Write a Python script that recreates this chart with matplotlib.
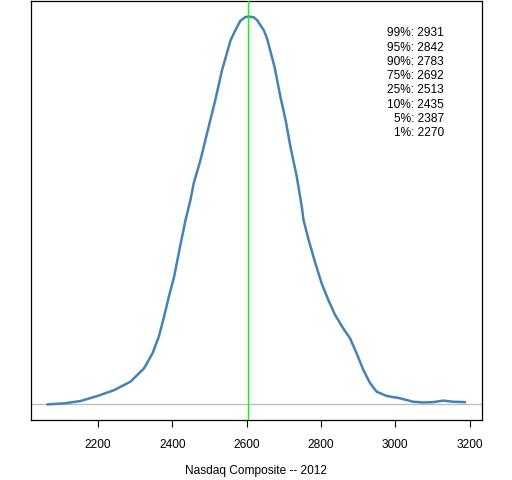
import matplotlib
matplotlib.use("Agg")
import matplotlib.pyplot as plt
import numpy as np

# density of simulated Nasdaq Composite year-end values (units of 1e-3)
index_level = [2065, 2110, 2154, 2199, 2244, 2288, 2324, 2347, 2364, 2378,
               2391, 2405, 2423, 2436, 2449, 2458, 2476, 2498, 2516, 2534,
               2557, 2570, 2583, 2597, 2606, 2619, 2628, 2646, 2655, 2675,
               2691, 2705, 2718, 2735, 2749, 2753, 2767, 2785, 2802, 2820,
               2838, 2860, 2878, 2896, 2914, 2932, 2950, 2977, 3012, 3048,
               3075, 3102, 3129, 3155, 3187]
density_e3 = [0.001, 0.009, 0.028, 0.068, 0.115, 0.183, 0.288, 0.409, 0.543, 0.701,
              0.862, 1.020, 1.290, 1.476, 1.634, 1.770, 1.953, 2.220, 2.434, 2.672,
              2.911, 2.992, 3.065, 3.096, 3.100, 3.094, 3.072, 2.992, 2.925, 2.700,
              2.458, 2.272, 2.058, 1.820, 1.569, 1.476, 1.314, 1.128, 0.967, 0.834,
              0.716, 0.608, 0.530, 0.409, 0.276, 0.171, 0.102, 0.068, 0.050, 0.022,
              0.016, 0.019, 0.031, 0.022, 0.019]

center_value = 2605

quantile_names = ["99%", "95%", "90%", "75%", "25%", "10%", "5%", "1%"]
quantile_values = [2931, 2842, 2783, 2692, 2513, 2435, 2387, 2270]

xticks = [2200, 2400, 2600, 2800, 3000, 3200]

plt.rcParams["font.family"] = ["Liberation Sans", "DejaVu Sans"]
fs = 8.6

fig = plt.figure(figsize=(5.12, 4.8), dpi=100)
ax = fig.add_axes([31 / 512, 1 - 420 / 480, 450.5 / 512, 419 / 480])

x = np.array(index_level)
y = np.array(density_e3) * 1e-3

ax.axhline(0, color="#BEBEBE", linewidth=1.0, zorder=1)
ax.plot(x, y, color="#4682B4", linewidth=1.8, zorder=2,
        solid_joinstyle="round")
ax.axvline(center_value, color="#00FF00", linewidth=1.0, zorder=3)

span = x.max() - x.min()
ax.set_xlim(x.min() - 0.04 * span, x.max() + 0.04 * span)
ax.set_ylim(-0.04 * y.max(), 1.04 * y.max())

ax.set_xticks(xticks)
ax.set_xticklabels([str(t) for t in xticks], fontsize=fs)
ax.set_yticks([])
ax.tick_params(axis="x", direction="out", length=5.0, width=0.8, pad=9)
for s in ax.spines.values():
    s.set_linewidth(0.9)
    s.set_color("black")

for i, (nm, val) in enumerate(zip(quantile_names, quantile_values)):
    ax.text(0.917, 0.923 - i * 0.0341, f"{nm}: {val}", transform=ax.transAxes,
            ha="right", va="center", fontsize=fs)

ax.set_xlabel("Nasdaq Composite -- 2012", fontsize=fs, labelpad=10)

fig.savefig("out.png", dpi=100)
